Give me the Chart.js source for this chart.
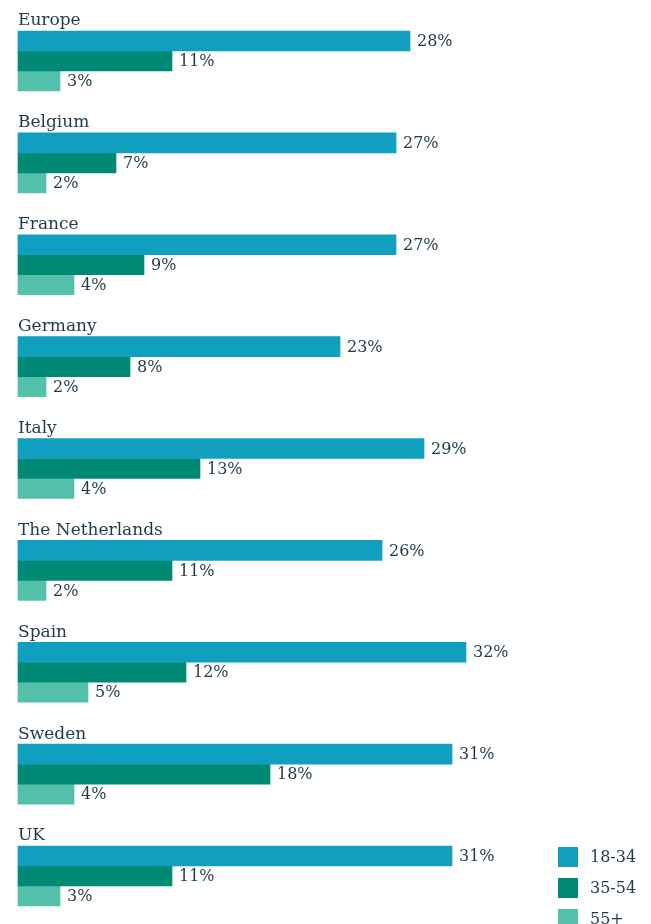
<!DOCTYPE html>
<html>
<head>
<meta charset="utf-8">
<script src="https://cdn.jsdelivr.net/npm/chart.js@4"></script>
<style>
  html, body { margin: 0; padding: 0; background: #fff; }
  #wrap { width: 651px; height: 924px; position: relative; }
</style>
</head>
<body>
<div id="wrap"><canvas id="bars" width="651" height="924"></canvas></div>
<script>
/* Chart data */
let countries = ['Europe', 'Belgium', 'France', 'Germany', 'Italy', 'The Netherlands', 'Spain', 'Sweden', 'UK']
let ageGroups = ['18-34', '35-54', '55+']
let young = [28, 27, 27, 23, 29, 26, 32, 31, 31]
let middle = [11, 7, 9, 8, 13, 11, 12, 18, 11]
let older = [3, 2, 4, 2, 4, 2, 5, 4, 3]
let colors = ['#119fc0', '#008a76', '#52c0ab']

let textColor = '#1f3a4a'
let fontFamily = '"DejaVu Serif", serif'

// country name above each group of bars, value label after each bar
let labelsPlugin = {
    id: 'groupLabels',
    afterDatasetsDraw(chart) {
        let ctx = chart.ctx
        ctx.save()
        ctx.fillStyle = textColor
        ctx.textBaseline = 'middle'
        ctx.textAlign = 'left'

        // value labels
        ctx.font = '16px ' + fontFamily
        chart.data.datasets.forEach((ds, i) => {
            chart.getDatasetMeta(i).data.forEach((bar, j) => {
                ctx.fillText(ds.data[j] + '%', bar.x + 7, bar.y + 1)
            })
        })

        // country names
        ctx.font = '17px ' + fontFamily
        let yScale = chart.scales.y
        chart.data.labels.forEach((name, j) => {
            let y = yScale.getPixelForValue(j)
            ctx.fillText(name, chart.chartArea.left, y - 40)
        })

        // legend, stacked in the bottom right corner
        ctx.font = '16px ' + fontFamily
        chart.data.datasets.forEach((ds, i) => {
            let top = 847 + i * 31
            ctx.fillStyle = ds.backgroundColor
            ctx.fillRect(558, top, 20, 20)
            ctx.fillStyle = textColor
            ctx.fillText(ds.label, 590, top + 11)
        })
        ctx.restore()
    }
}

let chart = new Chart(document.querySelector('#bars'), {
    type: 'bar',
    data: {
        labels: countries,
        datasets: [
            { label: ageGroups[0], data: young, backgroundColor: colors[0] },
            { label: ageGroups[1], data: middle, backgroundColor: colors[1] },
            { label: ageGroups[2], data: older, backgroundColor: colors[2] }
        ]
    },
    options: {
        indexAxis: 'y',
        responsive: false,
        animation: false,
        layout: { padding: { left: 18, right: 73, top: 61, bottom: 48 } },
        datasets: {
            bar: { barThickness: 20, clip: false, borderWidth: 0 }
        },
        scales: {
            x: { display: false, min: 0, max: 40 },
            y: { display: false, offset: false, grid: { display: false } }
        },
        plugins: {
            legend: { display: false },
            tooltip: { enabled: false }
        }
    },
    plugins: [labelsPlugin]
})
</script>
</body>
</html>
